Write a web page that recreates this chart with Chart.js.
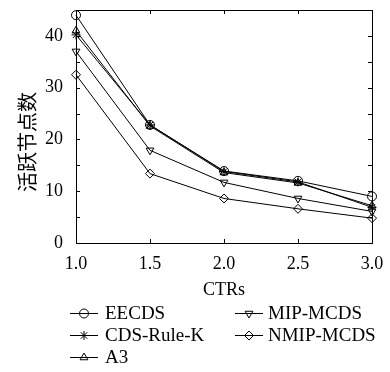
<!DOCTYPE html>
<html><head><meta charset="utf-8">
<script src="https://cdn.jsdelivr.net/npm/chart.js@4"></script>
<style>html,body{margin:0;padding:0;background:#fff}#wrap{width:390px;height:372px;position:relative}</style>
</head><body><div id="wrap"><canvas id="c" width="390" height="372"></canvas></div>
<script>
const categories = ['1.0', '1.5', '2.0', '2.5', '3.0'];
const eecds = [44.0, 22.8, 13.9, 12.0, 9.0];
const cdsRuleK = [40.2, 22.8, 13.8, 11.8, 6.9];
const a3 = [41.0, 22.6, 13.6, 11.6, 7.2];
const mipMcds = [37.0, 17.9, 11.7, 8.6, 6.1];
const nmipMcds = [32.5, 13.4, 8.6, 6.6, 4.8];
const seriesNames = ['EECDS', 'CDS-Rule-K', 'A3', 'MIP-MCDS', 'NMIP-MCDS'];
const yTicks = [0, 10, 20, 30, 40];
const yTitle = '活跃节点数';

const serif = "'Liberation Serif', serif";
const markers = [
  {pointStyle: 'circle', rotation: 0},
  {pointStyle: 'star', rotation: 0},
  {pointStyle: 'triangle', rotation: 0},
  {pointStyle: 'triangle', rotation: 180},
  {pointStyle: 'rectRot', rotation: 0}
];
const allData = [eecds, cdsRuleK, a3, mipMcds, nmipMcds];
const datasets = allData.map((d, i) => ({
  label: seriesNames[i],
  data: d,
  borderColor: '#000',
  borderWidth: 1,
  backgroundColor: 'rgba(0,0,0,0)',
  pointBorderColor: '#000',
  pointBackgroundColor: 'rgba(0,0,0,0)',
  pointBorderWidth: 1,
  pointRadius: 4.5,
  pointStyle: markers[i].pointStyle,
  pointRotation: markers[i].rotation,
  tension: 0
}));

function drawMarker(ctx, ds, x, y) {
  if (Chart.helpers && Chart.helpers.drawPoint) {
    ctx.save();
    ctx.strokeStyle = '#000'; ctx.fillStyle = 'rgba(0,0,0,0)'; ctx.lineWidth = 1;
    Chart.helpers.drawPoint(ctx, {pointStyle: ds.pointStyle, rotation: ds.pointRotation, radius: ds.pointRadius, borderWidth: 1}, x, y);
    ctx.restore();
  }
}

const boxPlugin = {
  id: 'boxTicks',
  afterDraw(chart) {
    const {ctx, chartArea: a, scales} = chart;
    ctx.save();
    ctx.strokeStyle = '#000'; ctx.lineWidth = 1;
    ctx.strokeRect(Math.round(a.left) + 0.5, Math.round(a.top) + 0.5, Math.round(a.right - a.left), Math.round(a.bottom - a.top));
    const tl = 4;
    ctx.beginPath();
    scales.x.ticks.forEach((t, i) => {
      const px = Math.round(scales.x.getPixelForTick(i)) + 0.5;
      ctx.moveTo(px, a.bottom); ctx.lineTo(px, a.bottom - tl);
      ctx.moveTo(px, a.top); ctx.lineTo(px, a.top + tl);
    });
    scales.y.ticks.forEach(t => {
      const py = Math.round(scales.y.getPixelForValue(t.value)) + 0.5;
      ctx.moveTo(a.left, py); ctx.lineTo(a.left + tl, py);
      ctx.moveTo(a.right, py); ctx.lineTo(a.right - tl, py);
    });
    ctx.stroke();
    // y title
    ctx.save();
    ctx.translate(27, 142);
    ctx.rotate(-Math.PI / 2);
    ctx.font = "20px 'Noto Sans CJK SC', sans-serif";
    ctx.textAlign = 'center'; ctx.textBaseline = 'middle'; ctx.fillStyle = '#000';
    ctx.fillText(yTitle, 0, 0);
    ctx.restore();
    // legend
    const cols = [{lx: 70, tx: 105}, {lx: 235, tx: 268}];
    const rows = [313, 335, 357];
    const pos = [[0,0],[0,1],[0,2],[1,0],[1,1]];
    ctx.font = "19px " + serif;
    ctx.textBaseline = 'middle';
    ctx.fillStyle = '#000';
    chart.data.datasets.forEach((ds, i) => {
      const c = cols[pos[i][0]], y = rows[pos[i][1]];
      ctx.beginPath();
      ctx.moveTo(c.lx, y + 0.5); ctx.lineTo(c.lx + 28, y + 0.5);
      ctx.stroke();
      drawMarker(ctx, ds, c.lx + 14, y + 0.5);
      ctx.fillText(ds.label, c.tx, y + 1);
    });
    ctx.restore();
  }
};

new Chart(document.getElementById('c'), {
  type: 'line',
  data: {labels: categories, datasets},
  plugins: [boxPlugin],
  options: {
    responsive: false,
    animation: false,
    layout: {padding: {left: 0, right: 18, top: 10, bottom: 0}},
    plugins: {legend: {display: false}, tooltip: {enabled: false}},
    scales: {
      x: {
        type: 'category',
        offset: false,
        grid: {display: false, drawTicks: false},
        border: {display: false},
        ticks: {color: '#000', padding: 10, font: {family: serif, size: 18}, maxRotation: 0},
        title: {display: true, text: 'CTRs', color: '#000', font: {family: serif, size: 18}, padding: {top: 0, bottom: 71}},
        afterFit(s) { s.height = 129; s.paddingLeft = 0; s.paddingRight = 0; }
      },
      y: {
        min: 0, max: 45,
        grid: {display: false, drawTicks: false},
        border: {display: false},
        ticks: {stepSize: 5, color: '#000', padding: 13, font: {family: serif, size: 18},
          callback: v => (yTicks.includes(v) ? String(v) : '')},
        afterFit(s) { s.width = 76; s.paddingTop = 0; s.paddingBottom = 0; }
      }
    }
  }
});
</script></body></html>
